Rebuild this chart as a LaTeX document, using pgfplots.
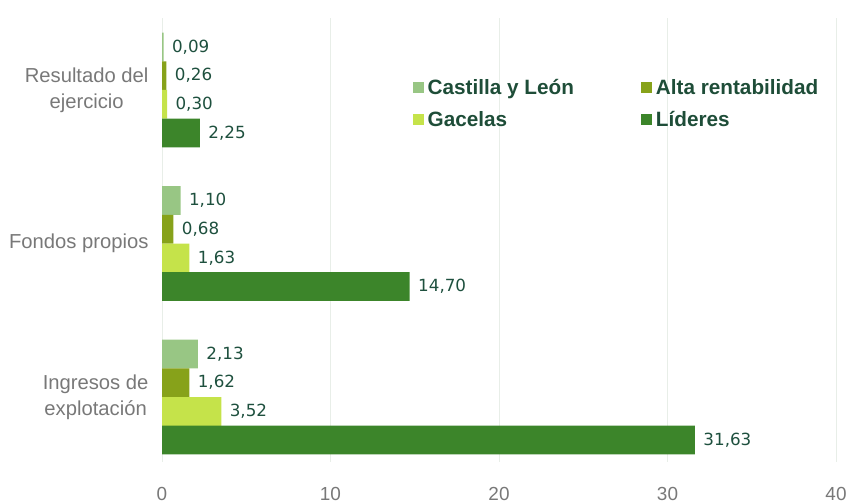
\documentclass[border=0pt]{standalone}
\usepackage{fontspec}
\setmainfont{Liberation Sans}
\newfontfamily\valfont{DejaVu Sans}
\usepackage{pgfplots}
\pgfplotsset{compat=1.18}
\definecolor{cyl}{RGB}{152,198,132}
\definecolor{alta}{RGB}{135,162,26}
\definecolor{gac}{RGB}{197,227,74}
\definecolor{lid}{RGB}{60,133,42}
\definecolor{valtxt}{RGB}{30,80,62}
\definecolor{legtxt}{RGB}{30,77,56}
\definecolor{gridc}{RGB}{232,238,232}
\definecolor{labtxt}{RGB}{120,120,120}
\begin{document}
\begin{tikzpicture}
\useasboundingbox (0bp,0bp) rectangle (848bp,504bp);
\begin{axis}[
  at={(162bp,42bp)}, anchor=south west,
  scale only axis, width=674bp, height=444bp,
  xmin=0, xmax=40, ymin=-0.423, ymax=2.469,
  xtick={0,10,20,30,40},
  ytick={0,1,2},
  yticklabels={{Ingresos de\\explotación},{Fondos propios},{Resultado del\\ejercicio}},
  xmajorgrids, grid style={gridc, line width=0.8bp},
  axis line style={draw=none},
  major tick length=0pt,
  xbar, bar width=0.187,
  xticklabel style={font=\fontsize{19}{22}\selectfont, text=labtxt, yshift=-22bp},
  /pgf/number format/assume math mode=true,
  yticklabel style={align=center, font=\fontsize{20.3}{26}\selectfont, text=labtxt, xshift=-10bp},
  nodes near coords={\pgfmathprintnumber[use comma,fixed,fixed zerofill,precision=2,assume math mode=true]{\pgfplotspointmeta}},
  nodes near coords align={horizontal},
  every node near coord/.append style={font=\valfont\fontsize{16.8}{18}\selectfont, text=valtxt, anchor=west, xshift=5bp},
  legend columns=2,
  legend image code/.code={\fill[#1] (0bp,-5.5bp) rectangle (11bp,5.5bp);},
  legend style={at={(0.3724,0.869)}, anchor=north west, draw=none, fill=none, inner sep=0pt,
    font=\bfseries\fontsize{20.8}{24}\selectfont, text=legtxt,
    nodes={inner xsep=3.5bp, inner ysep=3bp},
    /tikz/every even column/.append style={column sep=64bp},
    row sep=9bp},
  legend cell align=left,
]
\addplot[fill=cyl, draw=none, bar shift=0.28] coordinates {(2.13,0) (1.10,1) (0.09,2)};
\addplot[fill=alta, draw=none, bar shift=0.0935] coordinates {(1.62,0) (0.68,1) (0.26,2)};
\addplot[fill=gac, draw=none, bar shift=-0.0935] coordinates {(3.52,0) (1.63,1) (0.30,2)};
\addplot[fill=lid, draw=none, bar shift=-0.28] coordinates {(31.63,0) (14.70,1) (2.25,2)};
\legend{Castilla y León, Alta rentabilidad, Gacelas, Líderes}
\end{axis}
\end{tikzpicture}
\end{document}
